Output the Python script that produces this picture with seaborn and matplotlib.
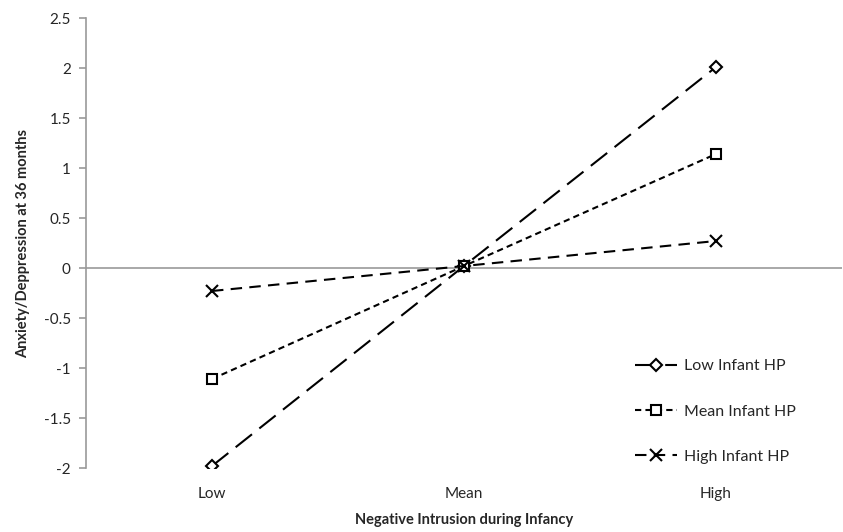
import pandas as pd
import matplotlib.pyplot as plt
import seaborn as sns

# values
categories = ['Low', 'Mean', 'High']
low_hp = [-1.98, 0.02, 2.01]
mean_hp = [-1.11, 0.02, 1.14]
high_hp = [-0.23, 0.02, 0.27]
series_names = ['Low Infant HP', 'Mean Infant HP', 'High Infant HP']

styles = {
    'Low Infant HP': dict(marker='D', dashes=(10, 4.5), ms=6.5),
    'Mean Infant HP': dict(marker='s', dashes=(3, 2), ms=7.5),
    'High Infant HP': dict(marker='x', dashes=(5.5, 3.5), ms=8),
}

sns.set_style('white')
plt.rcParams['font.family'] = ['Lato', 'DejaVu Sans']

fig = plt.figure(figsize=(8.43, 5.32), dpi=100)
ax = fig.add_axes([86 / 843, 1 - 468 / 532, 756 / 843, 450 / 532])

for name, vals in zip(series_names, [low_hp, mean_hp, high_hp]):
    d = pd.DataFrame({'pos': range(len(categories)), 'value': vals})
    st = styles[name]
    sns.lineplot(data=d, x='pos', y='value', color='black', linewidth=1.5,
                 marker=st['marker'], markersize=st['ms'], markerfacecolor='white',
                 markeredgecolor='black', markeredgewidth=1.5, label=name, ax=ax)
    ax.lines[-1].set_dashes(st['dashes'])

ax.axhline(0, color='#999999', linewidth=1.2, zorder=0)
ax.set_xlim(-0.5, 2.5)
ax.set_ylim(-2, 2.5)
ax.set_xticks(range(len(categories)))
ax.set_xticklabels(categories)
ax.set_yticks([-2, -1.5, -1, -0.5, 0, 0.5, 1, 1.5, 2, 2.5])
ax.set_yticklabels(['-2', '-1.5', '-1', '-0.5', '0', '0.5', '1', '1.5', '2', '2.5'])

for s in ['top', 'right', 'bottom']:
    ax.spines[s].set_visible(False)
ax.spines['left'].set_color('#999999')
ax.spines['left'].set_linewidth(1.2)
ax.tick_params(axis='y', length=5, color='#999999', width=1.2, labelsize=11, pad=6, left=True)
ax.tick_params(axis='x', length=0, labelsize=11, pad=14)

ax.set_xlabel('Negative Intrusion during Infancy', fontsize=10.5, fontweight='bold', labelpad=8)
ax.set_ylabel('Anxiety/Deppression at 36 months', fontsize=10.5, fontweight='bold', labelpad=10)

leg = ax.legend(loc='upper left', bbox_to_anchor=(635 / 843, 1 - 359 / 532),
                bbox_transform=fig.transFigure, frameon=False, fontsize=11.5,
                handlelength=2.6, labelspacing=1.95, handletextpad=0.45,
                borderpad=0, borderaxespad=0)

fig.savefig('out.png', dpi=100)
